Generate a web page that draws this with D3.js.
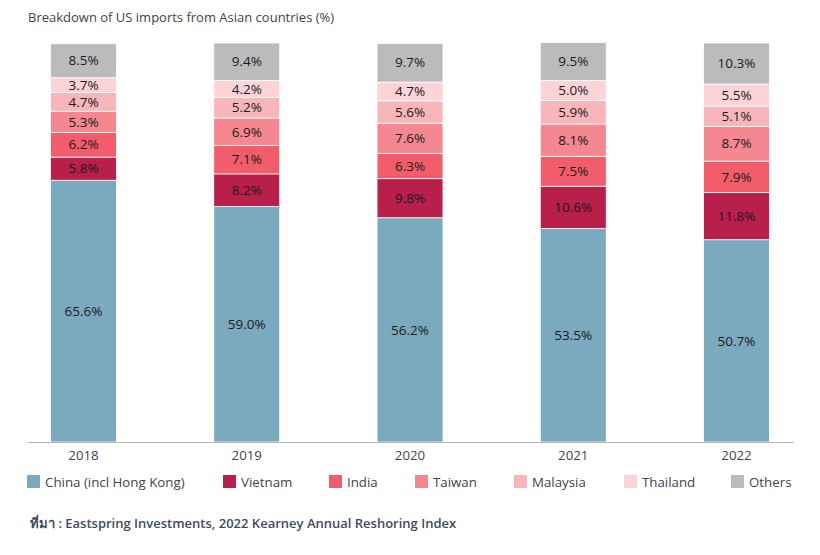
<!DOCTYPE html>
<html>
<head>
<meta charset="utf-8">
<script src="https://cdn.jsdelivr.net/npm/d3@7"></script>
<style>
  body { margin: 0; background: #fff; }
  svg { display: block; font-family: "Open Sans", "Noto Sans", sans-serif; }
</style>
</head>
<body>
<svg id="chart" width="820" height="555"></svg>
<script>
const years = ["2018", "2019", "2020", "2021", "2022"];
const seriesNames = ["China (incl Hong Kong)", "Vietnam", "India", "Taiwan", "Malaysia", "Thailand", "Others"];
const china    = [65.6, 59.0, 56.2, 53.5, 50.7];
const vietnam  = [5.8, 8.2, 9.8, 10.6, 11.8];
const india    = [6.2, 7.1, 6.3, 7.5, 7.9];
const taiwan   = [5.3, 6.9, 7.6, 8.1, 8.7];
const malaysia = [4.7, 5.2, 5.6, 5.9, 5.1];
const thailand = [3.7, 4.2, 4.7, 5.0, 5.5];
const others   = [8.5, 9.4, 9.7, 9.5, 10.3];
const colors = ["#7ba9be", "#b81f4b", "#f15d6b", "#f4878f", "#f8b6bb", "#fcd3d7", "#bbbbbd"];

const seriesValues = [china, vietnam, india, taiwan, malaysia, thailand, others];
const rows = years.map((y, i) => {
  const r = { year: y };
  seriesNames.forEach((s, k) => r[s] = seriesValues[k][i]);
  return r;
});

const svg = d3.select("#chart");
const x = d3.scaleBand().domain(years).range([27, 793]).paddingInner(0.596).paddingOuter(0.144);
const y = d3.scaleLinear().domain([0, 100]).range([442, 43]);

const stacked = d3.stack().keys(seriesNames)(rows);

// title
svg.append("text").attr("x", 28).attr("y", 22)
  .attr("font-size", 13).attr("fill", "#444").text("Breakdown of US imports from Asian countries (%)");

const groups = svg.append("g").selectAll("g").data(stacked).join("g")
  .attr("fill", (d, i) => colors[i]);

groups.selectAll("rect").data(d => d).join("rect")
  .attr("x", d => x(d.data.year))
  .attr("width", x.bandwidth())
  .attr("y", d => y(d[1]))
  .attr("height", d => y(d[0]) - y(d[1]))
  .attr("stroke", "#fff").attr("stroke-width", 0.8);

// labels
const lab = svg.append("g");
stacked.forEach(s => {
  s.forEach(d => {
    const v = d[1] - d[0];
    lab.append("text")
      .attr("x", x(d.data.year) + x.bandwidth() / 2)
      .attr("y", (y(d[0]) + y(d[1])) / 2)
      .attr("dy", "0.35em")
      .attr("text-anchor", "middle")
      .attr("font-size", 13.5)
      .attr("fill", "#1a1a1a")
      .text(v.toFixed(1) + "%");
  });
});

// axis
const axis = svg.append("g").attr("transform", "translate(0,442)")
  .call(d3.axisBottom(x).tickSize(0).tickPadding(9).tickSizeOuter(0));
axis.select(".domain").attr("stroke", "#b5b5b5").attr("stroke-width", 1);
axis.selectAll("text").attr("font-size", 13.3).attr("fill", "#444")
  .attr("font-family", "\"Open Sans\", \"Noto Sans\", sans-serif");

// legend
const legendX = [27, 223, 329, 415, 514, 624, 731];
const leg = svg.append("g");
seriesNames.forEach((s, i) => {
  const g = leg.append("g").attr("transform", `translate(${legendX[i]},475)`);
  g.append("rect").attr("width", 13).attr("height", 13).attr("fill", colors[i]);
  g.append("text").attr("x", 18).attr("y", 11.5).attr("font-size", 13.3).attr("fill", "#444").text(s);
});

// source
svg.append("text").attr("x", 30).attr("y", 528)
  .attr("font-size", 13).attr("font-weight", 600).attr("fill", "#3f4b5b")
  .text("ที่มา : Eastspring Investments, 2022 Kearney Annual Reshoring Index");
</script>
</body>
</html>
